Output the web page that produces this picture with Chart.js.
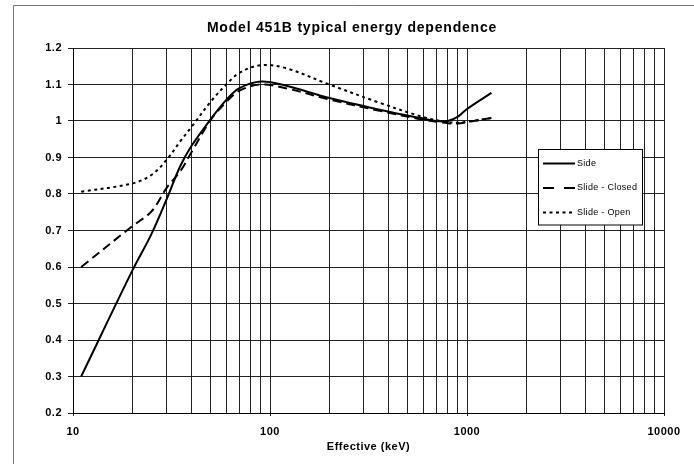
<!DOCTYPE html>
<html><head><meta charset="utf-8">
<script src="https://cdn.jsdelivr.net/npm/chart.js@4.4.0/dist/chart.umd.min.js"></script>
<style>html,body{margin:0;padding:0;background:#fff;}#wrap{width:694px;height:464px;position:relative;}</style>
</head><body><div id="wrap"><canvas id="c" width="694" height="464"></canvas></div>
<script>
const chartTitle = 'Model 451B typical energy dependence';
const xAxisTitle = 'Effective (keV)';
const seriesNames = ['Side', 'Slide - Closed', 'Slide - Open'];
const energyKeV      = [11,    20,    25,    30,    35,    40,    50,    60,    70,    90,    120,   200,   360,   580,   700,   800,   900,   1000,  1330];
const sideResponse   = [0.300, 0.590, 0.690, 0.788, 0.876, 0.932, 1.005, 1.058, 1.090, 1.108, 1.097, 1.063, 1.031, 1.008, 1.000, 1.000, 1.012, 1.033, 1.077];
const closedResponse = [0.600, 0.712, 0.752, 0.818, 0.862, 0.915, 1.003, 1.052, 1.083, 1.100, 1.090, 1.059, 1.028, 1.005, 0.998, 0.994, 0.993, 0.997, 1.008];
const openResponse   = [0.806, 0.829, 0.852, 0.895, 0.944, 0.984, 1.053, 1.100, 1.132, 1.153, 1.145, 1.100, 1.050, 1.013, 1.002, 0.997, 0.995, 0.998, 1.008];
const xTickValues = [10,20,30,40,50,60,70,80,90,100,200,300,400,500,600,700,800,900,1000,2000,3000,4000,5000,6000,7000,8000,9000,10000];
const xTickLabels = ['10', '100', '1000', '10000'];
const yTickValues = [0.2,0.3,0.4,0.5,0.6,0.7,0.8,0.9,1.0,1.1,1.2];

const seriesValues = [sideResponse, closedResponse, openResponse];
const seriesDash = [[], [9, 5], [3, 3.5]];

const datasets = seriesNames.map((name, i) => ({
  label: name,
  data: energyKeV.map((e, j) => ({ x: e, y: seriesValues[i][j] })),
  borderColor: '#000',
  borderWidth: 2,
  borderDash: seriesDash[i],
  pointRadius: 0,
  tension: 0.35,
  fill: false
}));

const spacingPlugin = {
  id: 'spacing',
  beforeLayout(chart) { chart.ctx.letterSpacing = '0.5px'; },
  beforeDraw(chart) { chart.ctx.letterSpacing = '0.5px'; }
};

const decorPlugin = {
  id: 'decor',
  beforeDraw(chart) {
    const ctx = chart.ctx;
    ctx.save();
    ctx.strokeStyle = '#777';
    ctx.lineWidth = 1;
    ctx.beginPath();
    ctx.moveTo(13.5, 464);
    ctx.lineTo(13.5, 5.5);
    ctx.lineTo(694, 5.5);
    ctx.stroke();
    ctx.restore();
  },
  afterDraw(chart) {
    const ctx = chart.ctx;
    ctx.save();
    ctx.fillStyle = '#000';
    ctx.textAlign = 'center';
    ctx.textBaseline = 'middle';
    ctx.letterSpacing = '0.8px';
    ctx.font = 'bold 14px "Liberation Sans", Arial, sans-serif';
    ctx.fillText(chartTitle, 352, 28);
    ctx.letterSpacing = '0.5px';
    ctx.font = 'bold 11px "Liberation Sans", Arial, sans-serif';
    const a = chart.chartArea;
    ctx.fillText(xAxisTitle, (a.left + a.right) / 2, 447);

    // legend
    const bx = 538.5, by = 149.5, bw = 104, bh = 75.5;
    ctx.fillStyle = '#fff';
    ctx.fillRect(bx, by, bw, bh);
    ctx.strokeStyle = '#000';
    ctx.lineWidth = 1;
    ctx.strokeRect(bx, by, bw, bh);
    const rows = [163.5, 188, 212.5];
    ctx.font = '9px "Liberation Sans", Arial, sans-serif';
    ctx.textAlign = 'left';
    ctx.letterSpacing = '0.3px';
    chart.data.datasets.forEach((ds, i) => {
      const y = rows[i];
      ctx.strokeStyle = ds.borderColor;
      ctx.lineWidth = 2;
      ctx.setLineDash(i === 1 ? [11, 10] : ds.borderDash);
      ctx.beginPath();
      ctx.moveTo(543, y);
      ctx.lineTo(575, y);
      ctx.stroke();
      ctx.setLineDash([]);
      ctx.fillStyle = '#000';
      ctx.fillText(ds.label, 577, y);
    });
    ctx.restore();
  }
};

const majorLabel = v => {
  const s = String(Math.round(v));
  return xTickLabels.includes(s) ? s : '';
};

new Chart(document.getElementById('c'), {
  type: 'line',
  data: { datasets },
  plugins: [spacingPlugin, decorPlugin],
  options: {
    responsive: false,
    animation: false,
    devicePixelRatio: 1,
    layout: { padding: { left: 13, right: 30, top: 48, bottom: 0 } },
    plugins: { legend: { display: false }, title: { display: false }, tooltip: { enabled: false } },
    scales: {
      x: {
        type: 'logarithmic',
        min: 10, max: 10000,
        afterBuildTicks: s => { s.ticks = xTickValues.map(v => ({ value: v, major: xTickLabels.includes(String(v)) })); },
        afterFit: s => { s.height = 51; },
        ticks: {
          autoSkip: false, maxRotation: 0, minRotation: 0, padding: 9,
          color: '#000',
          font: { family: '"Liberation Sans", Arial, sans-serif', size: 11, weight: 'bold' },
          callback: v => majorLabel(v)
        },
        grid: {
          color: '#222', lineWidth: 1, tickLength: 3,
          tickColor: c => (c.tick && xTickLabels.includes(String(Math.round(c.tick.value)))) ? '#222' : 'rgba(0,0,0,0)'
        },
        border: { display: true, color: '#000', width: 1 }
      },
      y: {
        type: 'linear',
        min: 0.2, max: 1.2,
        afterBuildTicks: s => { s.ticks = yTickValues.map(v => ({ value: v })); },
        afterFit: s => { s.width = 60; },
        ticks: {
          padding: 6, color: '#000',
          font: { family: '"Liberation Sans", Arial, sans-serif', size: 11, weight: 'bold' },
          callback: v => String(+Number(v).toFixed(1))
        },
        grid: { color: '#222', lineWidth: 1, tickLength: 5, tickColor: '#222' },
        border: { display: true, color: '#000', width: 1 }
      }
    }
  }
});
</script>
</body></html>
